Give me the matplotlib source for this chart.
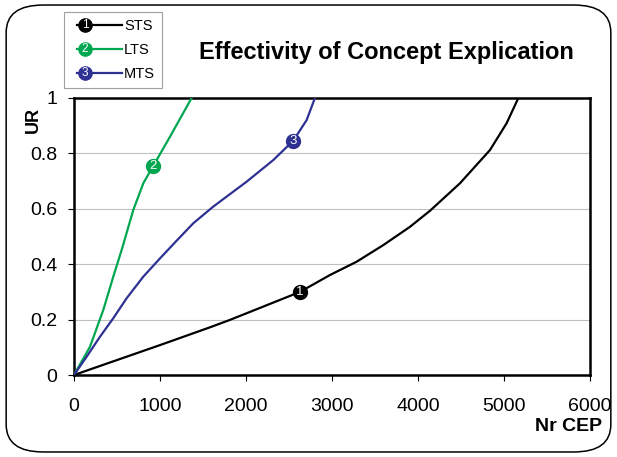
import matplotlib.pyplot as plt
from matplotlib.patches import FancyBboxPatch
from matplotlib.legend_handler import HandlerBase
from matplotlib.lines import Line2D
from matplotlib.text import Text

plt.rcParams.update({'font.family': ['Liberation Sans', 'DejaVu Sans'], 'font.size': 11})

title = 'Effectivity of Concept Explication'
names = ['STS', 'LTS', 'MTS']
colors = ['#000000', '#00a650', '#2e3192']
numbers = ['1', '2', '3']

sts_x = [0, 1000, 1580, 1814, 2628, 2977, 3287, 3597, 3907, 4140, 4488, 4837, 5031, 5167]
sts_y = [0, 0.108, 0.172, 0.199, 0.30, 0.361, 0.409, 0.469, 0.535, 0.593, 0.692, 0.812, 0.909, 1.0]
lts_x = [0, 186, 341, 457, 554, 690, 806, 922, 1116, 1368]
lts_y = [0, 0.102, 0.235, 0.355, 0.451, 0.596, 0.692, 0.755, 0.86, 1.0]
mts_x = [0, 147, 302, 457, 612, 806, 1000, 1194, 1388, 1620, 2008, 2318, 2550, 2705, 2802]
mts_y = [0, 0.066, 0.138, 0.205, 0.277, 0.355, 0.421, 0.485, 0.548, 0.608, 0.698, 0.776, 0.846, 0.92, 1.0]
marker_idx = [4, 7, 12]

series = [(sts_x, sts_y), (lts_x, lts_y), (mts_x, mts_y)]


class NumHandler(HandlerBase):
    # line with a numbered circle near its left end, like the Excel legend
    def __init__(self, num, color):
        super().__init__()
        self.num = num
        self.color = color

    def create_artists(self, legend, orig_handle, xdescent, ydescent, width, height, fontsize, trans):
        y = height / 2 - ydescent
        x0 = -xdescent + width * 0.12
        mx = -xdescent + width * 0.28
        line = Line2D([x0, width - xdescent], [y, y], color=self.color, linewidth=1.6, transform=trans)
        dot = Line2D([mx], [y], marker='o', markersize=9.5, markerfacecolor=self.color,
                     markeredgecolor=self.color, linestyle='none', transform=trans)
        txt = Text(mx, y, self.num, color='white', fontsize=8.5,
                   ha='center', va='center', transform=trans)
        return [line, dot, txt]


fig = plt.figure(figsize=(6.17, 4.57), dpi=100)
fig.patches.append(FancyBboxPatch((0.010, 0.011), 0.980, 0.978, boxstyle='round,pad=0,rounding_size=0.06',
                                  transform=fig.transFigure, fill=False, edgecolor='black', linewidth=1.1))
ax = fig.add_axes([0.1199, 0.1794, 0.8363, 0.6062])

handles = []
hmap = {}
for (xs, ys), c, num, mi, name in zip(series, colors, numbers, marker_idx, names):
    ax.plot(xs, ys, color=c, linewidth=1.6, zorder=3)
    ax.plot([xs[mi]], [ys[mi]], marker='o', markersize=10, markerfacecolor=c,
            markeredgecolor=c, linestyle='none', zorder=4)
    ax.text(xs[mi], ys[mi], num, color='white', fontsize=9.5,
            ha='center', va='center', zorder=5)
    h = Line2D([], [], color=c)
    handles.append(h)
    hmap[h] = NumHandler(num, c)

ax.set_xlim(0, 6000)
ax.set_ylim(0, 1)
ax.set_xticks(range(0, 6001, 1000))
ax.set_yticks([0, 0.2, 0.4, 0.6, 0.8, 1])
ax.set_yticklabels(['0', '0.2', '0.4', '0.6', '0.8', '1'])
ax.yaxis.grid(True, color='#c0c0c0', linewidth=0.8)
ax.set_axisbelow(True)
for s in ax.spines.values():
    s.set_linewidth(1.8)
ax.tick_params(axis='both', labelsize=14, direction='out', length=4.5, width=0.8)
ax.tick_params(axis='x', pad=12)
ax.tick_params(axis='y', pad=7.5)

fig.text(0.626, 0.886, title, fontsize=17, fontweight='bold', ha='center', va='center')
fig.text(0.054, 0.737, 'UR', fontsize=13, fontweight='bold', rotation=90, ha='center', va='center')
fig.text(0.976, 0.066, 'Nr CEP', fontsize=14, fontweight='bold', ha='right', va='center')

leg = fig.legend(handles, names, handler_map=hmap,
                 loc='upper left', bbox_to_anchor=(0.104, 0.973), fontsize=10.5,
                 fancybox=False, edgecolor='#a0a0a0', framealpha=1, handlelength=3.5,
                 borderpad=0.45, labelspacing=0.7, handletextpad=0.15, borderaxespad=0)
leg.get_frame().set_linewidth(0.8)

plt.savefig('out.png', dpi=100)
